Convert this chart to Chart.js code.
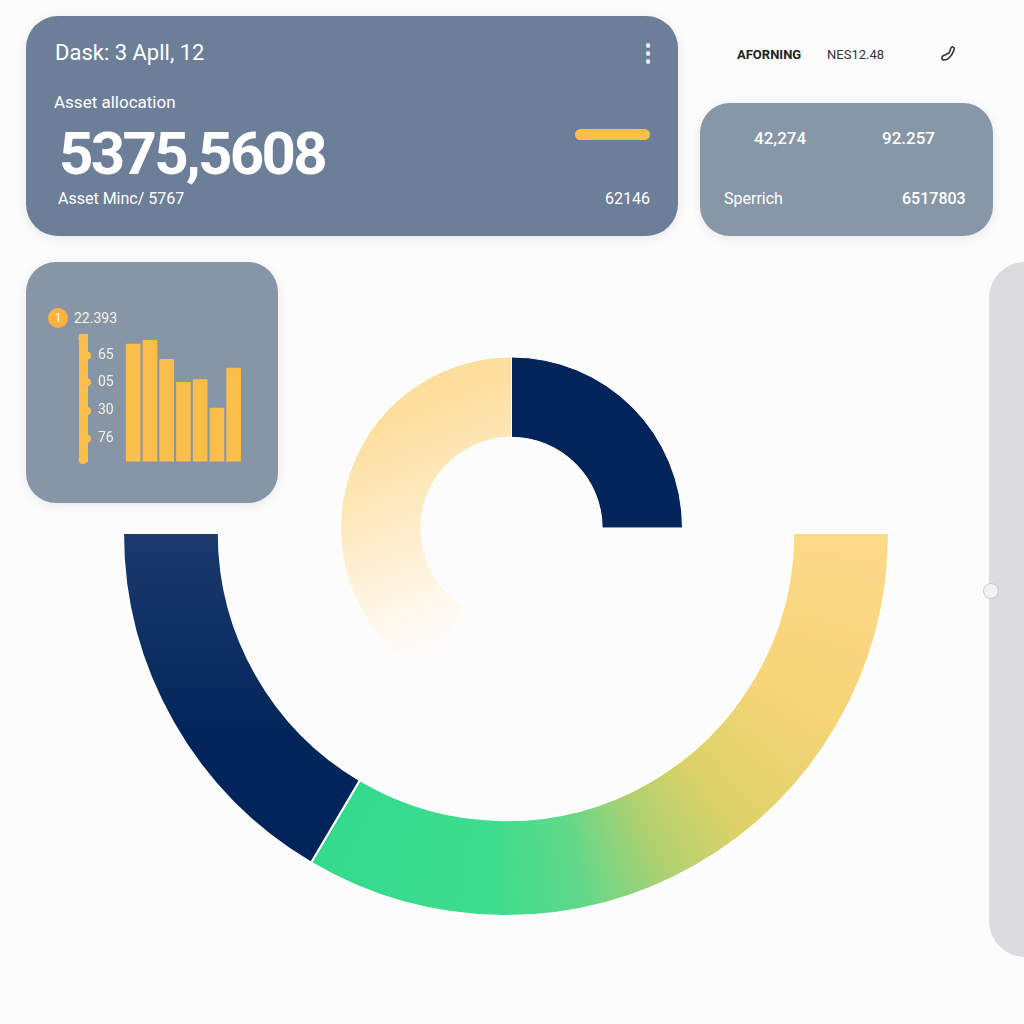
<!DOCTYPE html>
<html>
<head>
<meta charset="utf-8">
<script src="https://cdn.jsdelivr.net/npm/chart.js@4.4.1/dist/chart.umd.min.js"></script>
<style>
  html, body { margin: 0; padding: 0; }
  body { width: 1024px; height: 1024px; background: #fcfcfc; position: relative; overflow: hidden; font-family: Roboto, "Noto Sans", sans-serif; }
  .abs { position: absolute; }
  .card { position: absolute; border-radius: 32px; box-shadow: 0 2px 10px rgba(40, 50, 70, 0.10); }
  .txt { position: absolute; color: #fff; white-space: nowrap; line-height: 1; }
  canvas { position: absolute; }
</style>
</head>
<body>

<!-- main card -->
<div class="card" style="left:26px; top:16px; width:652px; height:220px; background:#6d7e99;"></div>
<div class="txt" style="left:55px; top:42px; font-size:22px;">Dask: 3 Apll, 12</div>
<div class="txt" style="left:636px; top:41px; font-size:24px; font-weight:bold;">⋮</div>
<div class="txt" style="left:54px; top:94px; font-size:17px;">Asset allocation</div>
<div class="txt" style="left:59px; top:124px; font-size:60px; font-weight:bold; letter-spacing:-2.7px;">5375,5608</div>
<div class="abs" style="left:575px; top:129px; width:75px; height:11px; border-radius:6px; background:#fbbf4a;"></div>
<div class="txt" style="left:58px; top:191px; font-size:16px;">Asset Minc/ 5767</div>
<div class="txt" style="left:605px; top:191px; font-size:16px;">62146</div>

<!-- header right -->
<div class="txt" style="left:737px; top:48px; font-size:13px; font-weight:bold; color:#222;">AFORNING</div>
<div class="txt" style="left:827px; top:48px; font-size:13px; color:#333;">NES12.48</div>
<svg class="abs" style="left:938px; top:44px;" width="22" height="22" viewBox="0 0 22 22">
  <path d="M6 16 C3 16 3 12 7 11 L11 9 C12 8 12 6 13 4 C14 2 17 3 16 6 C15 9 14 11 11 14 C9 16 8 16 6 16 Z" fill="none" stroke="#333" stroke-width="1.6"/>
</svg>

<!-- right card -->
<div class="card" style="left:700px; top:103px; width:293px; height:133px; background:#8797a8; border-radius:30px;"></div>
<div class="txt" style="left:754px; top:130px; font-size:17px; font-weight:500;">42,274</div>
<div class="txt" style="left:882px; top:130px; font-size:17px; font-weight:500;">92.257</div>
<div class="txt" style="left:724px; top:191px; font-size:16px;">Sperrich</div>
<div class="txt" style="left:902px; top:191px; font-size:16px; font-weight:500;">6517803</div>

<!-- bar card -->
<div class="card" style="left:26px; top:262px; width:252px; height:241px; background:#8796a7; border-radius:30px;"></div>
<div class="abs" style="left:48px; top:308px; width:20px; height:20px; border-radius:10px; background:#fbb23e; color:#fff; font-size:12px; line-height:20px; text-align:center;">1</div>
<div class="txt" style="left:74px; top:311px; font-size:14px; color:#f6f1e6;">22.393</div>
<canvas id="bars" width="201" height="170" style="left:45px; top:315px; width:201px; height:170px;"></canvas>

<!-- side panel -->
<div class="abs" style="left:989px; top:262px; width:80px; height:695px; border-radius:36px; background:#dcdcde;"></div>
<div class="abs" style="left:983px; top:583px; width:16px; height:16px; border-radius:9px; background:#f2f2f3; border:1px solid #c8c8cc; box-sizing:border-box;"></div>

<!-- rings -->
<canvas id="smallRing" width="343" height="321" style="left:340px; top:356px; width:343px; height:321px;"></canvas>
<canvas id="bigRing" width="768" height="385" style="left:122px; top:532px; width:768px; height:385px;"></canvas>

<script>
const barLabels = ["A", "B", "C", "D", "E", "F", "G"];
const barValues = [123, 127, 107, 83, 86, 56, 98];
const yTickValues = [24, 53, 83, 111];
const yTickLabels = ["76", "30", "05", "65"];

const bigLabels = ["Growth", "Core"];
const bigValues = [67, 33];

const smallLabels = ["Reserve", "Fixed"];
const smallValues = [62.5, 37.5];

const yellow = "#fbbe4b";
const navy = "#03255b";

// little bumps + round caps on the yellow y axis
const axisBumps = {
  id: "axisBumps",
  afterDraw(chart) {
    const s = chart.scales.y;
    const ctx = chart.ctx;
    ctx.save();
    ctx.fillStyle = yellow;
    s.ticks.forEach((t) => {
      ctx.beginPath();
      ctx.arc(s.right + 4, s.getPixelForValue(t.value), 4, 0, Math.PI * 2);
      ctx.fill();
    });
    const a = chart.chartArea;
    [a.top, a.bottom - 2].forEach((y) => {
      ctx.beginPath();
      ctx.arc(s.right, y, 4.5, 0, Math.PI * 2);
      ctx.fill();
    });
    ctx.restore();
  },
};

new Chart(document.getElementById("bars"), {
  type: "bar",
  data: {
    labels: barLabels,
    datasets: [
      {
        data: barValues.map((v, i) => ({ x: i, y: v })),
        backgroundColor: yellow,
        barThickness: 14,
        borderRadius: 1,
      },
    ],
  },
  options: {
    responsive: false,
    animation: false,
    devicePixelRatio: 1,
    layout: { padding: { left: 8, right: 4, top: 8, bottom: 8 } },
    plugins: { legend: { display: false }, tooltip: { enabled: false } },
    scales: {
      x: { type: "linear", min: -3, max: 6.5, offset: false, display: false },
      y: {
        min: 0,
        max: 129,
        afterBuildTicks: (s) => {
          s.ticks = yTickValues.map((v) => ({ value: v }));
        },
        ticks: {
          mirror: true,
          padding: 15,
          color: "#f6f1e6",
          font: { size: 14, family: "Roboto" },
          callback: (v, i) => yTickLabels[i],
        },
        grid: { drawOnChartArea: false, drawTicks: false },
        border: { display: true, color: yellow, width: 9 },
      },
    },
  },
  plugins: [axisBumps],
});

// small ring: fading yellow + navy quarter
new Chart(document.getElementById("smallRing"), {
  type: "doughnut",
  data: {
    labels: smallLabels,
    datasets: [
      {
        data: smallValues,
        backgroundColor: (c) => {
          if (c.dataIndex === 1) return navy;
          const g = c.chart.ctx.createLinearGradient(40, 64, 130, 284);
          g.addColorStop(0, "#fdde9c");
          g.addColorStop(0.55, "#feefd2");
          g.addColorStop(0.85, "#fffaf2");
          g.addColorStop(1, "#fcfcfc");
          return g;
        },
        borderColor: "#ffffff",
        borderWidth: 1,
      },
    ],
  },
  options: {
    responsive: false,
    animation: false,
    devicePixelRatio: 1,
    rotation: 210,
    circumference: 240,
    cutout: "53%",
    plugins: { legend: { display: false }, tooltip: { enabled: false } },
  },
});

// big half ring: green->yellow gradient + navy
new Chart(document.getElementById("bigRing"), {
  type: "doughnut",
  data: {
    labels: bigLabels,
    datasets: [
      {
        data: bigValues,
        backgroundColor: (c) => {
          const area = c.chart.chartArea;
          if (!area) return c.dataIndex === 0 ? "#3edc8e" : navy;
          const ctx = c.chart.ctx;
          const cx = (area.left + area.right) / 2;
          const cy = area.top + 1;
          if (c.dataIndex === 0) {
            const g = ctx.createConicGradient(0, cx, cy);
            g.addColorStop(0, "#fdd98a");
            g.addColorStop(0.083, "#f6d477");
            g.addColorStop(0.144, "#dcd268");
            g.addColorStop(0.18, "#b0d070");
            g.addColorStop(0.217, "#62d889");
            g.addColorStop(0.255, "#3edc8e");
            g.addColorStop(0.34, "#33da8c");
            g.addColorStop(1, "#fdd98a");
            return g;
          }
          const g = ctx.createLinearGradient(0, cy, 0, cy + 340);
          g.addColorStop(0, "#1b3a6d");
          g.addColorStop(0.6, "#02255b");
          g.addColorStop(1, "#00235a");
          return g;
        },
        borderColor: "#ffffff",
        borderWidth: 2,
      },
    ],
  },
  options: {
    responsive: false,
    animation: false,
    devicePixelRatio: 1,
    rotation: 90,
    circumference: 180,
    cutout: "75%",
    plugins: { legend: { display: false }, tooltip: { enabled: false } },
  },
});
</script>
</body>
</html>
